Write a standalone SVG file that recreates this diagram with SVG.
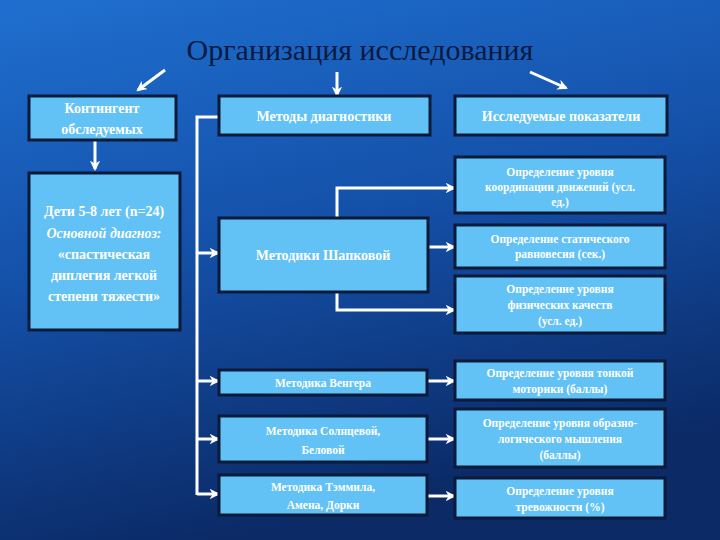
<svg xmlns="http://www.w3.org/2000/svg" width="720" height="540" viewBox="0 0 720 540">
<defs>
<linearGradient id="bg" x1="0" y1="0" x2="0.3" y2="1">
<stop offset="0" stop-color="#1f6fd0"/><stop offset="0.5" stop-color="#1450a8"/><stop offset="1" stop-color="#0b2a66"/>
</linearGradient>
<marker id="ah" viewBox="0 0 10 10" refX="8" refY="5" markerWidth="3.5" markerHeight="3.5" orient="auto"><path d="M0,0 L10,5 L0,10 L3,5 z" fill="#fff"/></marker>
<style>
.b{fill:#62c1f5;stroke:#0a1a3a;stroke-width:3}
.t{font-family:"Liberation Serif",serif;fill:#fff;text-anchor:middle;font-weight:bold;font-size:14px}
.s{font-family:"Liberation Serif",serif;fill:#fff;text-anchor:middle;font-weight:bold;font-size:11.5px}
.c{stroke:#fff;stroke-width:3;fill:none}
.a{stroke:#fff;stroke-width:3;fill:none;marker-end:url(#ah)}
</style>
</defs>
<rect width="720" height="540" fill="url(#bg)"/>
<text x="360" y="60" font-family="Liberation Serif,serif" font-size="30" fill="#0a1a40" text-anchor="middle">Организация исследования</text>
<g id="connectors">
<path class="a" d="M165,70 L138,90"/>
<path class="a" d="M337,72 L337,95"/>
<path class="a" d="M530,72 L566,88"/>
<path class="a" d="M95,141 L95,169"/>
<path class="c" d="M219,117 L197,117 L197,495"/>
<path class="a" d="M197,253 L218,253"/>
<path class="a" d="M197,381 L218,381"/>
<path class="a" d="M197,439 L218,439"/>
<path class="a" d="M197,494 L218,494"/>
<path class="a" d="M337,218 L337,188 L454,188"/>
<path class="a" d="M428,247 L454,247"/>
<path class="a" d="M337,292 L337,310 L454,310"/>
<path class="a" d="M427,381 L454,381"/>
<path class="a" d="M427,439 L454,439"/>
<path class="a" d="M427,496 L454,496"/>
</g>
<g id="n1"><rect class="b" x="29" y="96" width="147" height="44"/><text class="t" x="102" y="113">Контингент</text><text class="t" x="102" y="134">обследуемых</text></g>
<g id="n2"><rect class="b" x="29" y="173" width="151" height="157"/>
<text class="t" x="104" y="216" font-weight="normal" font-size="15">Дети 5-8 лет (n=24)</text>
<text class="t" x="104" y="238" font-weight="normal" font-style="italic" font-size="15">Основной диагноз:</text>
<text class="t" x="104" y="259" font-weight="normal" font-size="15">«спастическая</text>
<text class="t" x="104" y="280" font-weight="normal" font-size="15">диплегия легкой</text>
<text class="t" x="104" y="301" font-weight="normal" font-size="15">степени тяжести»</text></g>
<g id="n3"><rect class="b" x="219" y="96" width="211" height="39"/><text class="t" x="324" y="121">Методы диагностики</text></g>
<g id="n4"><rect class="b" x="455" y="96" width="212" height="39"/><text class="t" x="561" y="121">Исследуемые показатели</text></g>
<g id="n5"><rect class="b" x="219" y="218" width="209" height="74"/><text class="t" x="323" y="260">Методики Шапковой</text></g>
<g id="n6"><rect class="b" x="455" y="157" width="210" height="56"/><text class="s" x="560" y="176">Определение уровня</text><text class="s" x="560" y="191">координации движений (усл.</text><text class="s" x="560" y="206">ед.)</text></g>
<g id="n7"><rect class="b" x="455" y="225" width="210" height="43"/><text class="s" x="560" y="243">Определение статического</text><text class="s" x="560" y="258">равновесия (сек.)</text></g>
<g id="n8"><rect class="b" x="455" y="276" width="210" height="57"/><text class="s" x="560" y="293">Определение уровня</text><text class="s" x="560" y="309">физических качеств</text><text class="s" x="560" y="325">(усл. ед.)</text></g>
<g id="n9"><rect class="b" x="219" y="370" width="208" height="25"/><text class="s" x="323" y="387" font-size="13">Методика Венгера</text></g>
<g id="n10"><rect class="b" x="219" y="416" width="208" height="46"/><text class="s" x="323" y="435" font-size="13">Методика Солнцевой,</text><text class="s" x="323" y="454" font-size="13">Беловой</text></g>
<g id="n11"><rect class="b" x="219" y="475" width="208" height="40"/><text class="s" x="323" y="491" font-size="13">Методика Тэммила,</text><text class="s" x="323" y="509" font-size="13">Амена, Дорки</text></g>
<g id="n12"><rect class="b" x="455" y="361" width="210" height="39"/><text class="s" x="560" y="377">Определение уровня тонкой</text><text class="s" x="560" y="393">моторики (баллы)</text></g>
<g id="n13"><rect class="b" x="455" y="409" width="210" height="58"/><text class="s" x="560" y="427">Определение уровня образно-</text><text class="s" x="560" y="443">логического мышления</text><text class="s" x="560" y="459">(баллы)</text></g>
<g id="n14"><rect class="b" x="455" y="478" width="210" height="40"/><text class="s" x="560" y="495">Определение уровня</text><text class="s" x="560" y="511">тревожности (%)</text></g>
</svg>
